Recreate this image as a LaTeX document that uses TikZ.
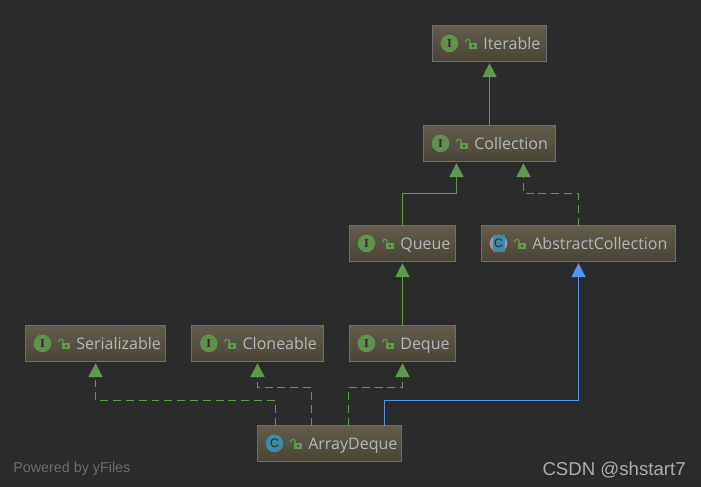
\documentclass[tikz,border=0pt]{standalone}
\usepackage{fontspec}
\setmainfont{Open Sans}
\newfontfamily\markfont{Liberation Sans}
\newfontfamily\letterfont{Liberation Serif}
\usetikzlibrary{arrows.meta}
\definecolor{canvas}{HTML}{2B2B2B}
\definecolor{boxtop}{HTML}{635C4C}
\definecolor{boxbot}{HTML}{494537}
\definecolor{boxline}{HTML}{6E6E6E}
\definecolor{boxtext}{HTML}{B0B8BC}
\definecolor{edgegreen}{HTML}{5F9A4B}
\definecolor{edgeblue}{HTML}{5394EC}
\definecolor{icongreen}{HTML}{62904F}
\definecolor{iconteal}{HTML}{3F8AA6}
\tikzset{
  classbox/.style={draw=boxline, line width=0.8pt, top color=boxtop, bottom color=boxbot,
    inner sep=0pt, outer sep=0pt, anchor=north west, minimum height=20.4pt},
  classname/.style={anchor=base west, inner sep=0pt, text=boxtext, font=\fontsize{9.1}{10}\selectfont},
  iconletter/.style={inner sep=0pt, text=canvas, font=\letterfont\bfseries\fontsize{7}{8}\selectfont},
  inherit/.style={draw=edgegreen, line width=0.85pt, shorten >=1pt,
    -{Triangle[length=8pt, width=8pt, fill=edgegreen]}},
  realize/.style={inherit, dash pattern=on 4.5pt off 2.8pt},
  extend/.style={draw=edgeblue, line width=0.85pt, shorten >=1pt,
    -{Triangle[length=8pt, width=8pt, fill=edgeblue]}},
  pics/lockicon/.style={code={
    \fill[edgegreen] (3,0) rectangle (11,5.5);
    \fill[boxbot] (6,2) rectangle (8,3.6);
    \draw[edgegreen, line width=0.7pt] (0.5,-1) -- (0.5,-3) -- (1.5,-4) -- (3.5,-4) -- (4.5,-3) -- (4.5,0);
  }},
  pics/ifaceicon/.style={code={
    \fill[icongreen] (0,0) circle (8.8);
    \node[iconletter] (-letter) at (0,0) {I};
  }},
  pics/classicon/.style={code={
    \fill[iconteal] (0,0) circle (8.8);
    \node[iconletter, font=\markfont\fontsize{7}{8}\selectfont] (-letter) at (0,0) {C};
  }},
  pics/abstracticon/.style={code={
    \fill[boxline!70!white] (0,0) circle (8.8);
    \fill[iconteal] (-6,-8.5) rectangle (6,8.5);
    \node[iconletter, font=\markfont\fontsize{7}{8}\selectfont] (-letter) at (0,0) {C};
  }}
}
\begin{document}
\begin{tikzpicture}[x=0.02cm, y=-0.02cm]
  \useasboundingbox[fill=canvas] (0,0) rectangle (701,487);
  % boxes
  \foreach \nm/\x/\y/\w/\txt/\ic in {
    iterable/432.3/25.5/114.4/Iterable/ifaceicon,
    collection/423.3/125.5/132.4/Collection/ifaceicon,
    queue/349.3/225.5/106.4/Queue/ifaceicon,
    abstractcollection/481.3/225.5/194.4/AbstractCollection/abstracticon,
    serializable/25.3/325.5/140.4/Serializable/ifaceicon,
    cloneable/191.6/325.5/131.8/Cloneable/ifaceicon,
    deque/349.3/325.5/106.4/Deque/ifaceicon,
    arraydeque/257.3/425.5/144.4/ArrayDeque/classicon} {
    \node[classbox, minimum width=\w*0.02cm] (\nm) at (\x,\y) {};
    \node[classname] (\nm-name) at ([shift={(50.7,6)}]\nm.west) {\txt};
    \pic (\nm-icon) at ([shift={(17.2,0)}]\nm.west) {\ic};
    \pic (\nm-lock) at ([shift={(33.2,0)}]\nm.west) {lockicon};
  }
  % connectors
  \draw[inherit] (collection.north) -- (iterable.south);
  \draw[inherit] (queue.north) -- ++(0,-32) -| ([shift={(-33,0)}]collection.south);
  \draw[realize] (abstractcollection.north) -- ++(0,-32) -| ([shift={(34,0)}]collection.south);
  \draw[inherit] (deque.north) -- (queue.south);
  \draw[realize] ([shift={(18.2,0)}]arraydeque.north west) -- ++(0,-25) -| (serializable.south);
  \draw[realize] ([shift={(54.2,0)}]arraydeque.north west) -- ++(0,-38) -| (cloneable.south);
  \draw[realize] ([shift={(91.2,0)}]arraydeque.north west) -- ++(0,-38) -| (deque.south);
  \draw[extend] ([shift={(127.2,0)}]arraydeque.north west) -- ++(0,-25) -| (abstractcollection.south);
  % marks
  \node[anchor=west, inner sep=0pt, text=boxline, font=\markfont\fontsize{8.15}{9}\selectfont] (poweredby) at (13,469) {Powered by yFiles};
  \node[anchor=east, inner sep=0pt, text=white!68!black, font=\markfont\fontsize{10.6}{12}\selectfont] (csdnmark) at (686,470) {CSDN @shstart7};
\end{tikzpicture}
\end{document}
